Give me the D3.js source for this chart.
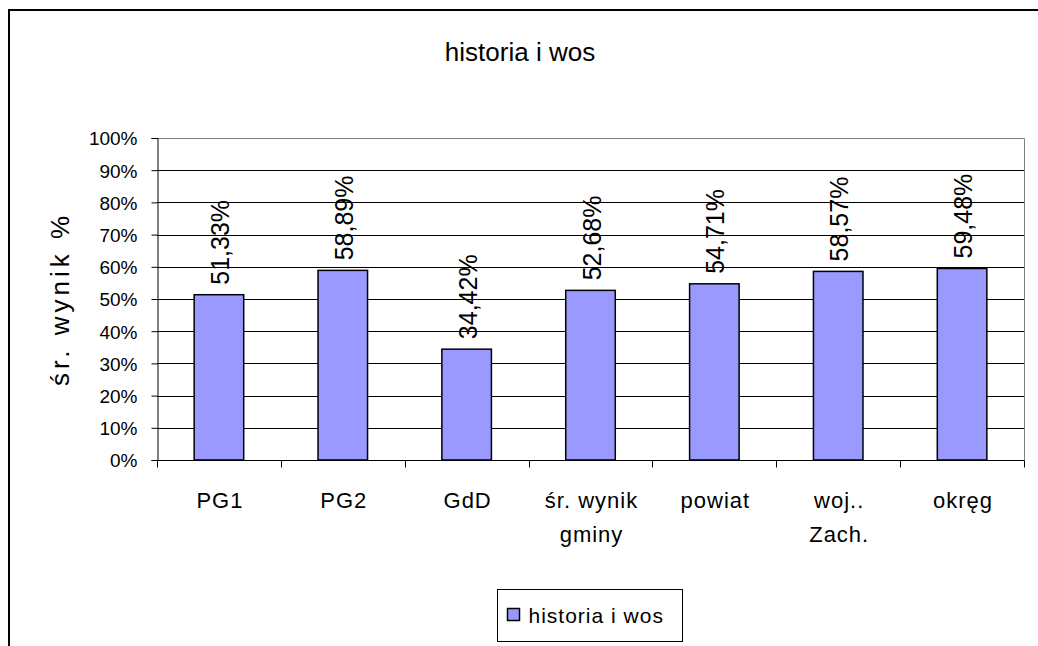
<!DOCTYPE html>
<html>
<head>
<meta charset="utf-8">
<script src="https://cdn.jsdelivr.net/npm/d3@7"></script>
<style>
  body { margin: 0; background: #fff; }
  svg { display: block; font-family: Arial, "Liberation Sans", sans-serif; }
</style>
</head>
<body>
<div id="chart"></div>
<script>
// dane wykresu
const categories = [["PG1"], ["PG2"], ["GdD"], ["śr. wynik", "gminy"], ["powiat"], ["woj..", "Zach."], ["okręg"]];
const values = [51.33, 58.89, 34.42, 52.68, 54.71, 58.57, 59.48];
const yTicks = [0, 10, 20, 30, 40, 50, 60, 70, 80, 90, 100];
const seriesName = "historia i wos";
const chartTitle = "historia i wos";
const yTitle = "śr. wynik %";

const width = 1038, height = 646;
const plot = { left: 157, top: 138, right: 1024, bottom: 460 };

const svg = d3.select("#chart").append("svg")
  .attr("width", width)
  .attr("height", height);

// ramka wykresu (tylko góra i lewa)
svg.append("line").attr("x1", 9).attr("x2", width).attr("y1", 10).attr("y2", 10)
  .attr("stroke", "#000").attr("stroke-width", 2);
svg.append("line").attr("x1", 9).attr("x2", 9).attr("y1", 9).attr("y2", height)
  .attr("stroke", "#000").attr("stroke-width", 2);

const x = d3.scaleBand()
  .domain(d3.range(categories.length))
  .range([plot.left, plot.right])
  .paddingInner(0.6)
  .paddingOuter(0.3);

const xOuter = d3.scaleBand()
  .domain(d3.range(categories.length))
  .range([plot.left, plot.right]);

const y = d3.scaleLinear().domain([0, 100]).range([plot.bottom, plot.top]);

// tytuł
svg.append("text")
  .attr("x", 520).attr("y", 61)
  .attr("text-anchor", "middle")
  .style("font-size", "26px")
  .text(chartTitle);

// linie siatki
svg.append("g").selectAll("line")
  .data(yTicks.filter(d => d > 0 && d < 100))
  .join("line")
  .attr("x1", plot.left).attr("x2", plot.right)
  .attr("y1", d => Math.round(y(d)) + 0.5).attr("y2", d => Math.round(y(d)) + 0.5)
  .attr("stroke", "#000").attr("stroke-width", 1);

// obramowanie obszaru kreślenia (góra i prawa - szare)
svg.append("path")
  .attr("d", `M${plot.left},${plot.top + 0.5}H${plot.right + 0.5}V${plot.bottom}`)
  .attr("fill", "none").attr("stroke", "#808080").attr("stroke-width", 1);

// oś Y
const yAxis = d3.axisLeft(y)
  .tickValues(yTicks)
  .tickSize(6)
  .tickPadding(14)
  .tickFormat(d => d + "%");
const gy = svg.append("g")
  .attr("transform", `translate(${plot.left + 0.5},0)`)
  .call(yAxis);
gy.select(".domain").attr("stroke", "#000");
gy.selectAll(".tick line").attr("stroke", "#000");
gy.selectAll(".tick text")
  .style("font-size", "19px")
  .attr("fill", "#000")
  .attr("dy", "0.36em");

// tytuł osi Y
svg.append("text")
  .attr("transform", `translate(69,299) rotate(-90)`)
  .attr("text-anchor", "middle")
  .style("font-size", "26px")
  .style("letter-spacing", "4px")
  .text(yTitle);

// słupki
svg.append("g").selectAll("rect")
  .data(values)
  .join("rect")
  .attr("x", (d, i) => x(i))
  .attr("y", d => y(d))
  .attr("width", x.bandwidth())
  .attr("height", d => y(0) - y(d))
  .attr("fill", "#9999FF")
  .attr("stroke", "#000")
  .attr("stroke-width", 1.5);

// oś X
const gx = svg.append("g")
  .attr("transform", `translate(0,${plot.bottom + 0.5})`);
gx.append("line")
  .attr("x1", plot.left).attr("x2", plot.right + 0.5)
  .attr("stroke", "#000");
const bounds = d3.range(categories.length + 1).map(i => i < categories.length ? xOuter(i) : plot.right);
gx.selectAll(".xtick")
  .data(bounds)
  .join("line")
  .attr("class", "xtick")
  .attr("x1", d => Math.round(d) + 0.5).attr("x2", d => Math.round(d) + 0.5)
  .attr("y1", 0).attr("y2", 7)
  .attr("stroke", "#000");

// etykiety kategorii
const catLabels = svg.append("g").selectAll("text")
  .data(categories)
  .join("text")
  .attr("text-anchor", "middle")
  .style("font-size", "22px")
  .style("letter-spacing", "1px")
  .attr("transform", (d, i) => `translate(${xOuter(i) + xOuter.bandwidth() / 2 + 1},508)`);
catLabels.selectAll("tspan")
  .data(d => d)
  .join("tspan")
  .attr("x", 0)
  .attr("y", (d, j) => j * 34)
  .text(d => d);

// etykiety danych
const fmt = v => v.toFixed(2).replace(".", ",") + "%";
svg.append("g").selectAll("text")
  .data(values)
  .join("text")
  .attr("transform", (d, i) => `translate(${x(i) + x.bandwidth() / 2 + 10},${y(d) - 10}) rotate(-90)`)
  .attr("text-anchor", "start")
  .style("font-size", "25px")
  .text(d => fmt(d));

// legenda
const leg = svg.append("g").attr("transform", "translate(497.5,589.5)");
leg.append("rect")
  .attr("width", 185).attr("height", 52)
  .attr("fill", "#fff").attr("stroke", "#000");
leg.append("rect")
  .attr("x", 10).attr("y", 19)
  .attr("width", 12).attr("height", 12)
  .attr("fill", "#9999FF").attr("stroke", "#000").attr("stroke-width", 1.5);
leg.append("text")
  .attr("x", 31).attr("y", 33)
  .style("font-size", "21px")
  .style("letter-spacing", "1px")
  .text(seriesName);
</script>
</body>
</html>
